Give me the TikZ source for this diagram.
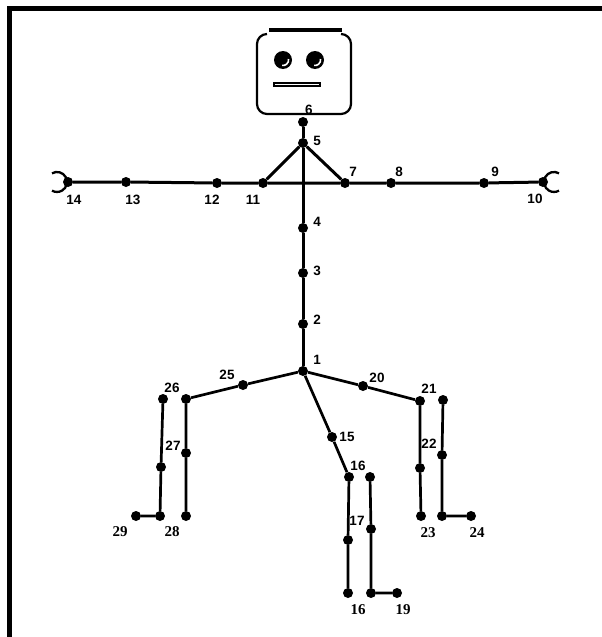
\documentclass[tikz,border=0pt]{standalone}
\usepackage{fontspec}
\newfontfamily\lblfont{Liberation Sans}
\newfontfamily\numfont{Liberation Serif}
\begin{document}
\begin{tikzpicture}[x=1pt,y=-1pt,
  dot/.style={circle,fill=black,inner sep=0pt,minimum size=10pt},
  lbl/.style={font=\lblfont\bfseries\fontsize{13.5}{13.5}\selectfont,inner sep=0pt},
  blbl/.style={font=\numfont\bfseries\fontsize{15}{15}\selectfont,inner sep=0pt},
  limb/.style={line width=3pt},
  leg/.style={line width=2.7pt},
  hand/.style={line width=2.3pt},
  eye/.style={circle,fill=black,inner sep=0pt,minimum size=18pt}]
\useasboundingbox (0,0) rectangle (602,637);
% frame
\draw[line width=5pt] (9,637) -- (9,8) -- (602,8);

% head
\draw[line width=2.2pt] (267,34) arc[start angle=270,end angle=180,radius=10]
  -- (257,104) arc[start angle=180,end angle=90,radius=10]
  -- (341,114) arc[start angle=90,end angle=0,radius=10]
  -- (351,44) arc[start angle=0,end angle=-90,radius=10];
\draw[line width=3.5pt] (269,30) -- (342,30);
\node[eye] (eyeL) at (283,60) {};
\node[eye] (eyeR) at (315,60) {};
\draw[white,line width=1.6pt] (eyeL.center) ++(5.5,-1) arc[start angle=-10,end angle=100,radius=5.5];
\draw[white,line width=1.6pt] (eyeR.center) ++(5.5,-1) arc[start angle=-10,end angle=100,radius=5.5];
\node[draw,line width=2.3pt,fill=white,minimum width=46pt,minimum height=3pt,inner sep=0pt] (mouth) at (297,84.5) {};

% joints: spine and arms
\node[dot] (n6) at (303,122) {};
\node[dot] (n5) at (303,143) {};
\node[dot] (n4) at (303,228) {};
\node[dot] (n3) at (303,273) {};
\node[dot] (n2) at (303,324) {};
\node[dot] (n1) at (303,371) {};
\node[dot] (n14) at (68,182) {};
\node[dot] (n13) at (126,182) {};
\node[dot] (n12) at (217,183) {};
\node[dot] (n11) at (263,183) {};
\node[dot] (n7) at (345,183) {};
\node[dot] (n8) at (391,183) {};
\node[dot] (n9) at (484,183) {};
\node[dot] (n10) at (543,182) {};

% joints: right leg
\node[dot] (n20) at (363,386) {};
\node[dot] (n21) at (420,401) {};
\node[dot] (n22) at (420,468) {};
\node[dot] (n23) at (421,516) {};
\node[dot] (r21) at (443,400) {};
\node[dot] (r22) at (442,455) {};
\node[dot] (r23) at (442,516) {};
\node[dot] (n24) at (471,516) {};

% joints: middle leg
\node[dot] (n15) at (332,437) {};
\node[dot] (n16) at (349,477) {};
\node[dot] (n17) at (348,540) {};
\node[dot] (n18) at (348,593) {};
\node[dot] (m16) at (370,477) {};
\node[dot] (m17) at (371,529) {};
\node[dot] (m18) at (371,593) {};
\node[dot] (n19) at (397,593) {};

% joints: left leg
\node[dot] (n25) at (243,385) {};
\node[dot] (n26) at (186,399) {};
\node[dot] (n27) at (186,453) {};
\node[dot] (n28) at (186,516) {};
\node[dot] (l26) at (163,399) {};
\node[dot] (l27) at (161,467) {};
\node[dot] (l28) at (160,516) {};
\node[dot] (n29) at (136,516) {};

% spine and shoulders
\draw[limb] (n6) -- (n5) -- (n4) -- (n3) -- (n2) -- (n1);
\draw[limb] (n11) -- (n5) -- (n7);
\draw[limb] (n14) -- (n13) -- (n12) -- (n11) -- (n7) -- (n8) -- (n9) -- (n10);
% hands
\draw[hand] (n14) ++(-16,-8.7) arc[start angle=-120,end angle=120,radius=10];
\draw[hand] (n10) ++(16,-8.7) arc[start angle=-60,end angle=-300,radius=10];

% legs
\draw[leg] (n1) -- (n20) -- (n21) -- (n22) -- (n23);
\draw[leg] (r21) -- (r22) -- (r23) -- (n24);
\draw[leg] (n1) -- (n15) -- (n16) -- (n17) -- (n18);
\draw[leg] (m16) -- (m17) -- (m18) -- (n19);
\draw[leg] (n1) -- (n25) -- (n26) -- (n27) -- (n28);
\draw[leg] (l26) -- (l27) -- (l28) -- (n29);

% labels
\node[lbl] (t6) at (309,110) {6};
\node[lbl] (t5) at (317,141) {5};
\node[lbl] (t4) at (317,222) {4};
\node[lbl] (t3) at (317,271) {3};
\node[lbl] (t2) at (317,320) {2};
\node[lbl] (t1) at (317,360) {1};
\node[lbl] (t14) at (74,200) {14};
\node[lbl] (t13) at (133,200) {13};
\node[lbl] (t12) at (212,200) {12};
\node[lbl] (t11) at (253,200) {11};
\node[lbl] (t7) at (353,172) {7};
\node[lbl] (t8) at (399,172) {8};
\node[lbl] (t9) at (495,172) {9};
\node[lbl] (t10) at (535,199) {10};
\node[lbl] (t20) at (377,378) {20};
\node[lbl] (t21) at (429,389) {21};
\node[lbl] (t22) at (429,444) {22};
\node[lbl] (t15) at (347,437) {15};
\node[lbl] (t16) at (358,466) {16};
\node[lbl] (t17) at (357,521) {17};
\node[lbl] (t25) at (227,375) {25};
\node[lbl] (t26) at (172,388) {26};
\node[lbl] (t27) at (173,446) {27};
\node[blbl] (t23) at (428,533) {23};
\node[blbl] (t24) at (477,533) {24};
\node[blbl] (t28) at (172,532) {28};
\node[blbl] (t29) at (120,532) {29};
\node[blbl] (t16b) at (358,610) {16};
\node[blbl] (t19) at (403,610) {19};
\end{tikzpicture}
\end{document}
